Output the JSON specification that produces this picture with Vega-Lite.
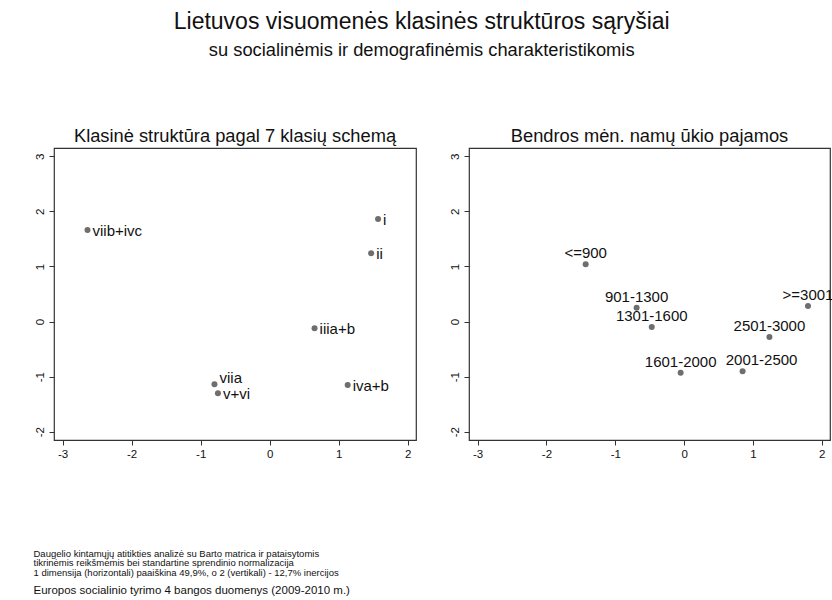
{
  "$schema": "https://vega.github.io/schema/vega-lite/v6.json",
  "padding": {"left": 33, "top": 10, "right": 0, "bottom": 0},
  "background": "white",
  "datasets": {
    "klase": [
      {"label": "viib+ivc", "d1": -2.64, "d2": 1.66},
      {"label": "i", "d1": 1.57, "d2": 1.86},
      {"label": "ii", "d1": 1.47, "d2": 1.24},
      {"label": "iiia+b", "d1": 0.65, "d2": -0.12},
      {"label": "viia", "d1": -0.80, "d2": -1.14},
      {"label": "v+vi", "d1": -0.75, "d2": -1.30},
      {"label": "iva+b", "d1": 1.13, "d2": -1.15}
    ],
    "pajamos": [
      {"label": "<=900", "d1": -1.43, "d2": 1.04},
      {"label": "901-1300", "d1": -0.69, "d2": 0.25},
      {"label": "1301-1600", "d1": -0.47, "d2": -0.10},
      {"label": "1601-2000", "d1": -0.05, "d2": -0.93},
      {"label": "2001-2500", "d1": 0.85, "d2": -0.90},
      {"label": "2501-3000", "d1": 1.24, "d2": -0.28},
      {"label": ">=3001", "d1": 1.80, "d2": 0.28}
    ],
    "blank": [{"k": 0}]
  },
  "title": {
    "text": "Lietuvos visuomenės klasinės struktūros sąryšiai",
    "subtitle": "su socialinėmis ir demografinėmis charakteristikomis",
    "anchor": "middle",
    "dx": -12,
    "font": "Liberation Sans",
    "fontSize": 23,
    "fontWeight": "normal",
    "color": "#111",
    "subtitleFont": "Liberation Sans",
    "subtitleFontSize": 18.3,
    "subtitleColor": "#111",
    "subtitlePadding": 8,
    "offset": 67
  },
  "spacing": 87,
  "vconcat": [
    {
      "spacing": 31,
      "hconcat": [
        {
          "width": 362,
          "height": 292,
          "title": {"text": "Klasinė struktūra pagal 7 klasių schemą"},
          "data": {"name": "klase"},
          "encoding": {
            "x": {"field": "d1", "type": "quantitative", "scale": {"domain": [-3.125, 2.12], "nice": false, "zero": false}, "axis": {"values": [-3, -2, -1, 0, 1, 2]}},
            "y": {"field": "d2", "type": "quantitative", "scale": {"domain": [-2.15, 3.15], "nice": false, "zero": false}, "axis": {"values": [-2, -1, 0, 1, 2, 3]}}
          },
          "layer": [
            {"mark": {"type": "circle", "size": 36, "color": "#6e6e6e", "opacity": 1}},
            {
              "transform": [{"filter": "datum.label != 'viia'"}],
              "mark": {"type": "text", "align": "left", "baseline": "middle", "dx": 5, "dy": 1, "font": "Liberation Sans", "fontSize": 15, "color": "#111"},
              "encoding": {"text": {"field": "label"}}
            },
            {
              "transform": [{"filter": "datum.label == 'viia'"}],
              "mark": {"type": "text", "align": "left", "baseline": "middle", "dx": 5, "dy": -6, "font": "Liberation Sans", "fontSize": 15, "color": "#111"},
              "encoding": {"text": {"field": "label"}}
            }
          ]
        },
        {
          "width": 361,
          "height": 292,
          "title": {"text": "Bendros mėn. namų ūkio pajamos"},
          "data": {"name": "pajamos"},
          "encoding": {
            "x": {"field": "d1", "type": "quantitative", "scale": {"domain": [-3.125, 2.12], "nice": false, "zero": false}, "axis": {"values": [-3, -2, -1, 0, 1, 2]}},
            "y": {"field": "d2", "type": "quantitative", "scale": {"domain": [-2.15, 3.15], "nice": false, "zero": false}, "axis": {"values": [-2, -1, 0, 1, 2, 3]}}
          },
          "layer": [
            {"mark": {"type": "circle", "size": 36, "color": "#6e6e6e", "opacity": 1}},
            {
              "transform": [{"filter": "datum.label != '2001-2500'"}],
              "mark": {"type": "text", "align": "center", "baseline": "alphabetic", "dy": -6, "font": "Liberation Sans", "fontSize": 15, "color": "#111"},
              "encoding": {"text": {"field": "label"}}
            },
            {
              "transform": [{"filter": "datum.label == '2001-2500'"}],
              "mark": {"type": "text", "align": "center", "baseline": "alphabetic", "dx": 19, "dy": -6, "font": "Liberation Sans", "fontSize": 15, "color": "#111"},
              "encoding": {"text": {"field": "label"}}
            }
          ]
        }
      ]
    },
    {
      "width": 760,
      "height": 1,
      "view": {"stroke": null},
      "data": {"name": "blank"},
      "mark": {"type": "rule", "opacity": 0},
      "encoding": {},
      "title": {
        "text": [
          "Daugelio kintamųjų atitikties analizė su Barto matrica ir pataisytomis",
          "tikrinėmis reikšmėmis bei standartine sprendinio normalizacija",
          "1 dimensija (horizontali) paaiškina 49,9%, o 2 (vertikali) - 12,7% inercijos"
        ],
        "subtitle": "Europos socialinio tyrimo 4 bangos duomenys (2009-2010 m.)",
        "orient": "top",
        "anchor": "start",
        "dx": -20,
        "font": "Liberation Sans",
        "fontSize": 9.5,
        "lineHeight": 9.5,
        "fontWeight": "normal",
        "color": "#111",
        "subtitleFont": "Liberation Sans",
        "subtitleFontSize": 11.5,
        "subtitleColor": "#111",
        "subtitlePadding": 8,
        "offset": 0
      }
    }
  ],
  "config": {
    "view": {"stroke": "#333", "strokeWidth": 1.2},
    "title": {"font": "Liberation Sans", "fontSize": 18.3, "fontWeight": "normal", "color": "#111", "anchor": "middle", "offset": 2},
    "axis": {
      "title": null,
      "grid": false,
      "domain": false,
      "tickColor": "#333",
      "tickSize": 5,
      "labelFont": "Liberation Sans",
      "labelFontSize": 11.5,
      "labelColor": "#111",
      "labelPadding": 4,
      "labelExpr": "'' + datum.value"
    },
    "axisY": {"labelAngle": -90, "minExtent": 20, "maxExtent": 20},
    "axisX": {"labelPadding": 3}
  }
}
